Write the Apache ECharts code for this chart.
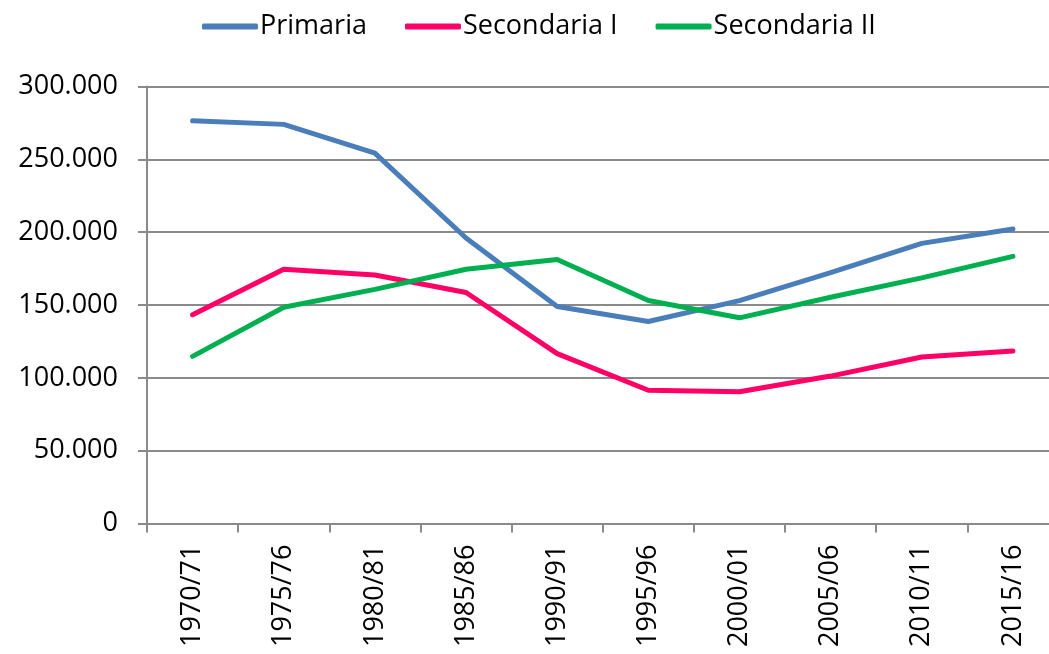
<!DOCTYPE html>
<html>
<head>
<meta charset="utf-8">
<script src="https://cdn.jsdelivr.net/npm/echarts@6/dist/echarts.min.js"></script>
<style>
  html, body { margin: 0; padding: 0; background: #fff; overflow: hidden; }
  #chart { width: 1060px; height: 654px; }
</style>
</head>
<body>
<div id="chart"></div>
<script>
// anni scolastici
const anni = ['1970/71', '1975/76', '1980/81', '1985/86', '1990/91', '1995/96', '2000/01', '2005/06', '2010/11', '2015/16'];

// numero alunni per ordine di scuola
const primaria = [276500, 274000, 254300, 196000, 149000, 138700, 153000, 172300, 192300, 202200];
const secondaria1 = [143300, 174500, 170600, 158600, 116600, 91500, 90400, 101200, 114300, 118400];
const secondaria2 = [114700, 148500, 160700, 174500, 181200, 153100, 141200, 155300, 168600, 183400];

const colori = ['#4a7ebb', '#ff0066', '#00b050'];

const fontFam = '"Open Sans", "Noto Sans", sans-serif';

// 300000 -> "300.000"
const fmt = (v) => String(v).replace(/\B(?=(\d{3})+(?!\d))/g, '.');

const myChart = echarts.init(document.getElementById('chart'));

const makeSerie = (name, data, idx) => ({
    name: name,
    type: 'line',
    data: data,
    showSymbol: false,
    symbol: 'none',
    color: colori[idx],
    lineStyle: { width: 5, color: colori[idx], cap: 'round', join: 'round' },
    emphasis: { disabled: true }
});

const option = {
    animation: false,
    legend: {
        left: 197,
        top: 8,
        icon: 'roundRect',
        itemWidth: 56,
        itemHeight: 6,
        itemGap: 38,
        textStyle: { fontFamily: fontFam, fontSize: 27, color: '#000', padding: [0, 0, 0, -3] },
        data: ['Primaria', 'Secondaria I', 'Secondaria II']
    },
    grid: {
        left: 147,
        top: 86.5,
        width: 911.5,
        height: 437,
        containLabel: false
    },
    xAxis: {
        type: 'category',
        data: anni,
        boundaryGap: true,
        axisLine: { lineStyle: { color: '#8a8a8a', width: 2 } },
        axisTick: { show: true, length: 9, lineStyle: { color: '#8a8a8a', width: 2 } },
        axisLabel: {
            rotate: 90,
            margin: 21,
            fontFamily: fontFam,
            fontSize: 27,
            color: '#000',
            interval: 0
        },
        splitLine: { show: false }
    },
    yAxis: {
        type: 'value',
        min: 0,
        max: 300000,
        interval: 50000,
        axisLine: { show: true, lineStyle: { color: '#8a8a8a', width: 2 } },
        axisTick: { show: true, length: 9, lineStyle: { color: '#8a8a8a', width: 2 } },
        axisLabel: {
            margin: 29,
            fontFamily: fontFam,
            fontSize: 27,
            color: '#000',
            formatter: fmt
        },
        splitLine: { show: true, lineStyle: { color: '#8a8a8a', width: 2 } }
    },
    series: [
        makeSerie('Primaria', primaria, 0),
        makeSerie('Secondaria I', secondaria1, 1),
        makeSerie('Secondaria II', secondaria2, 2)
    ]
};

myChart.setOption(option);
</script>
</body>
</html>
